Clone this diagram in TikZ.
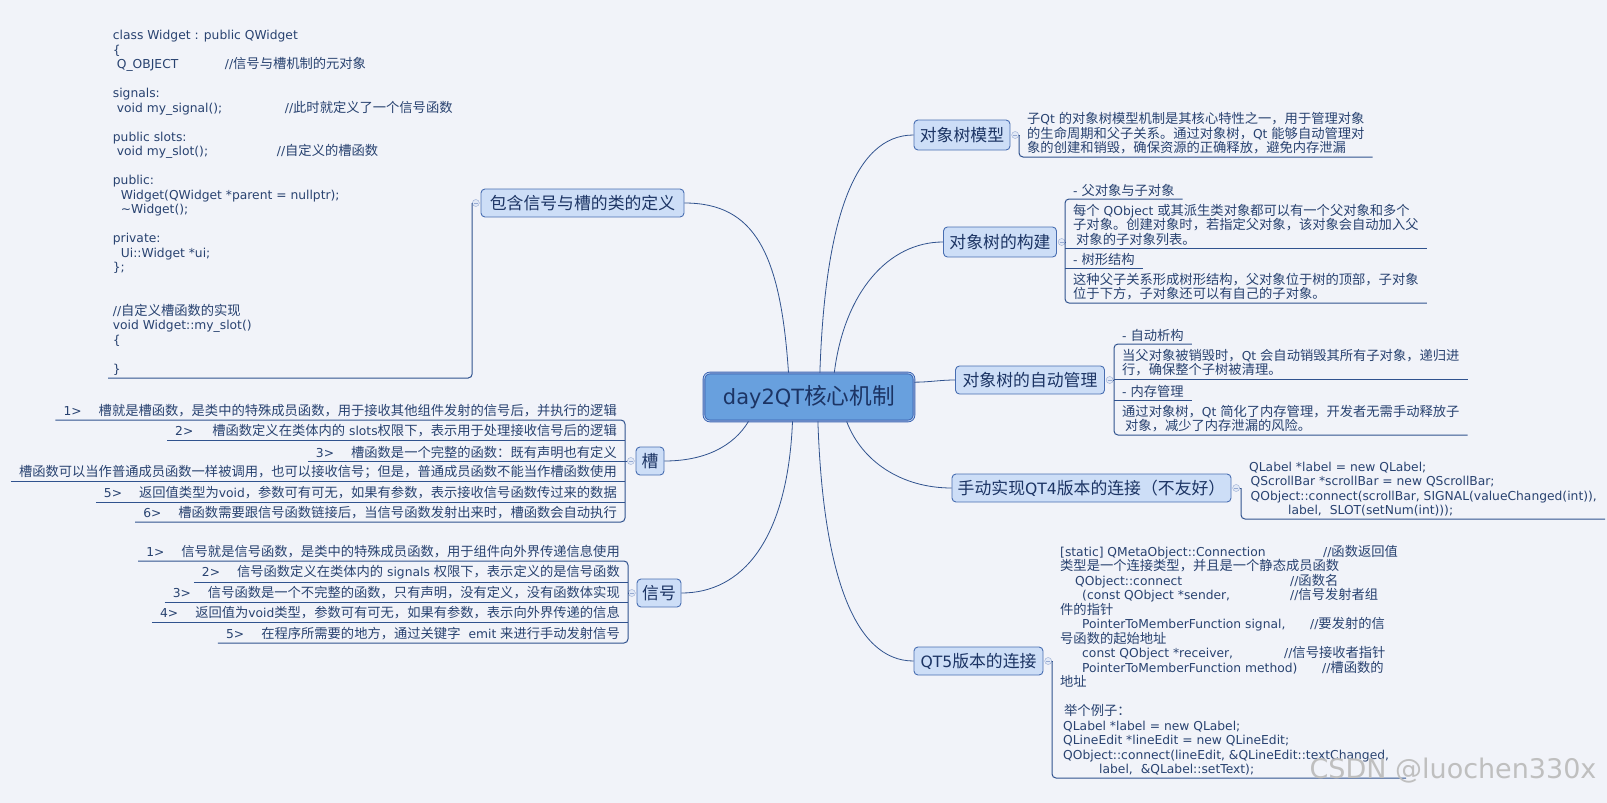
\documentclass[tikz,border=0pt]{standalone}
\usepackage{fontspec}
\setmainfont{DejaVu Sans}
\newfontfamily\zhfont[Scale=1.08]{Noto Sans CJK SC}
\usetikzlibrary{positioning}

% CJK runs are set in the CJK face
\XeTeXinterchartokenstate=1
\newXeTeXintercharclass\zhclass
\newcount\zhcode
\def\zhrange#1#2{\zhcode=#1 \loop\XeTeXcharclass\zhcode=\zhclass
  \advance\zhcode by 1 \ifnum\zhcode<#2 \repeat}
\zhrange{"3000}{"3040}
\zhrange{"4E00}{"A000}
\zhrange{"FF00}{"FFF0}
\XeTeXinterchartoks 0 \zhclass = {\zhfont}
\XeTeXinterchartoks 4095 \zhclass = {\zhfont}
\XeTeXinterchartoks \zhclass 0 = {\rmfamily}
\XeTeXinterchartoks \zhclass 4095 = {\rmfamily}

\definecolor{BG}{RGB}{241,243,249}
\definecolor{RootFill}{RGB}{104,160,222}
\definecolor{RootLine}{RGB}{58,96,176}
\definecolor{TopicFill}{RGB}{205,222,247}
\definecolor{TopicLine}{RGB}{72,110,178}
\definecolor{DeepBlue}{RGB}{28,52,100}
\definecolor{LineBlue}{RGB}{48,82,142}
\definecolor{TextBlue}{RGB}{40,66,112}
\definecolor{KnobFill}{RGB}{226,233,246}
\definecolor{KnobLine}{RGB}{150,170,210}

\newcommand{\codecmt}[3]{\makebox[#1][l]{#2}#3}
\newcommand{\itemgap}{\hspace{17pt}}

\begin{document}
\begin{tikzpicture}[x=1pt, y=-1pt, node distance=1pt,
  root/.style={draw=RootLine, line width=0.9pt, double=RootFill!45!white,
               double distance=0.8pt, fill=RootFill, rounded corners=6pt,
               minimum width=210pt, minimum height=48pt, text=DeepBlue,
               font=\fontsize{21}{25}\selectfont},
  topic/.style={draw=TopicLine, line width=0.9pt, fill=TopicFill,
                rounded corners=4pt, minimum height=28pt, inner xsep=0pt,
                text=DeepBlue, font=\fontsize{15.6}{19}\selectfont},
  knob/.style={circle, draw=KnobLine, fill=KnobFill, inner sep=0pt,
               minimum size=7pt, path picture={\draw[KnobLine]
               ([xshift=-2pt]path picture bounding box.center) --
               ([xshift=2pt]path picture bounding box.center);}},
  txt/.style={inner xsep=8pt, inner ysep=2.5pt, text=TextBlue,
              font=\fontsize{12.3}{14.5}\selectfont},
  para/.style={txt, anchor=south west, align=left},
  item/.style={txt, anchor=south east, align=right},
  link/.style={draw=LineBlue, line width=0.8pt},
  uline/.style={draw=LineBlue, line width=1pt, rounded corners=4pt}
]
\useasboundingbox (0,0) rectangle (1607,803);
\fill[BG] (0,0) rectangle (1607,803);

% Central topic
\node[root] (root) at (809,397) {day2QT核心机制};

% Main topics
\node[topic, minimum width=96pt, minimum height=30pt] (model) at (962,135) {对象树模型};
\node[topic, minimum width=113pt, minimum height=30pt] (build) at (1000,242) {对象树的构建};
\node[topic, minimum width=149pt] (manage) at (1030,380) {对象树的自动管理};
\node[topic, minimum width=279pt] (qt4) at (1091.5,488) {手动实现QT4版本的连接（不友好）};
\node[topic, minimum width=129pt] (qt5) at (978.5,661) {QT5版本的连接};
\node[topic, minimum width=203pt] (defn) at (582.5,203) {包含信号与槽的类的定义};
\node[topic, minimum width=28pt] (slot) at (650,461) {槽};
\node[topic, minimum width=44pt] (signal) at (659,593) {信号};

% Collapse knobs
\node[knob, right=of model] (kmodel) {};
\node[knob, right=of build] (kbuild) {};
\node[knob, right=of manage] (kmanage) {};
\node[knob, right=of qt4] (kqt4) {};
\node[knob, right=of qt5] (kqt5) {};
\node[knob, left=of defn] (kdefn) {};
\node[knob, left=of slot] (kslot) {};
\node[knob, left=of signal] (ksignal) {};

% Branches from the centre
\draw[link] (root.130) .. controls +(-8,-120) and +(70,0) .. (defn.east);
\draw[link] (root.66) .. controls +(5,-150) and +(-60,0) .. (model.west);
\draw[link] (root.44) .. controls +(10,-80) and +(-55,0) .. (build.west);
\draw[link] (root.8) .. controls +(15,0) and +(-15,0) .. (manage.west);
\draw[link] (root.327) .. controls +(15,40) and +(-50,0) .. (qt4.west);
\draw[link] (root.290) .. controls +(5,150) and +(-60,0) .. (qt5.west);
\draw[link] (root.202) .. controls +(-15,25) and +(40,0) .. (slot.east);
\draw[link] (root.236) .. controls +(-5,120) and +(60,0) .. (signal.east);

% Object tree model
\node[para] (mtext) at (1019,157) {子Qt 的对象树模型机制是其核心特性之一，用于管理对象\\的生命周期和父子关系。通过对象树，Qt 能够自动管理对\\象的创建和销毁，确保资源的正确释放，避免内存泄漏};
\draw[link] (kmodel.east) -- (kmodel.east -| mtext.south west);
\draw[uline] (kmodel.east -| mtext.south west) -- (mtext.south west) -- (mtext.south east);

% Building the tree
\node[para] (b1) at (1065,199) {- 父对象与子对象};
\node[para] (b2) at (1065,248) {每个 QObject 或其派生类对象都可以有一个父对象和多个\\子对象。创建对象时，若指定父对象，该对象会自动加入父\\\hspace*{3pt}对象的子对象列表。};
\node[para] (b3) at (1065,268) {- 树形结构};
\node[para] (b4) at (1065,303) {这种父子关系形成树形结构，父对象位于树的顶部，子对象\\位于下方，子对象还可以有自己的子对象。};
\draw[uline] (b1.south east) -- (b1.south west) -- (b4.south west) -- (b4.south east);
\draw[uline] (b2.south west) -- (b2.south east);
\draw[uline] (b3.south west) -- (b3.south east);
\draw[link] (kbuild.east) -- (kbuild.east -| b2.south west);

% Automatic management
\node[para] (m1) at (1114,344) {- 自动析构};
\node[para] (m2) at (1114,379) {当父对象被销毁时，Qt 会自动销毁其所有子对象，递归进\\行，确保整个子树被清理。};
\node[para] (m3) at (1114,400) {- 内存管理};
\node[para] (m4) at (1114,435) {通过对象树，Qt 简化了内存管理，开发者无需手动释放子\\\hspace*{3pt}对象，减少了内存泄漏的风险。};
\draw[uline] (m1.south east) -- (m1.south west) -- (m4.south west) -- (m4.south east);
\draw[uline] (m2.south west) -- (m2.south east);
\draw[uline] (m3.south west) -- (m3.south east);
\draw[link] (kmanage.east) -- (kmanage.east -| m2.south west);

% QT4 style connection
\node[para] (q4) at (1241,519) {QLabel *label = new QLabel;\\\hspace*{1.5pt}QScrollBar *scrollBar = new QScrollBar;\\\hspace*{1.5pt}QObject::connect(scrollBar, SIGNAL(valueChanged(int)),\\\hspace*{39pt}label,\hspace*{4pt} SLOT(setNum(int)));};
\draw[link] (kqt4.east) -- (kqt4.east -| q4.south west);
\draw[uline] (kqt4.east -| q4.south west) -- (q4.south west) -- (q4.south east);

% QT5 style connection
\node[para] (q5) at (1052,778) {%
\codecmt{263pt}{[static] QMetaObject::Connection}{//函数返回值}\\
类型是一个连接类型，并且是一个静态成员函数\\
\codecmt{230pt}{\hspace*{15pt}QObject::connect}{//函数名}\\
\codecmt{230pt}{\hspace*{22pt}(const QObject *sender,}{//信号发射者组}\\
件的指针\\
\codecmt{250pt}{\hspace*{22pt}PointerToMemberFunction signal,}{//要发射的信}\\
号函数的起始地址\\
\codecmt{224pt}{\hspace*{22pt}const QObject *receiver,}{//信号接收者指针}\\
\codecmt{262pt}{\hspace*{22pt}PointerToMemberFunction method)}{//槽函数的}\\
地址\\[14.5pt]
\hspace*{4pt}举个例子：\\
\hspace*{3pt}QLabel *label = new QLabel;\\
\hspace*{3pt}QLineEdit *lineEdit = new QLineEdit;\\
\hspace*{3pt}QObject::connect(lineEdit, \&QLineEdit::textChanged,\\
\hspace*{39pt}label,\hspace*{4pt} \&QLabel::setText);};
\draw[link] (kqt5.east) -- (kqt5.east -| q5.south west);
\draw[uline] (kqt5.east -| q5.south west) -- (q5.south west) -- (q5.south east);

% Class definition
\node[para, inner xsep=4.7pt] (code) at (108,378) {%
class Widget : public QWidget\\
\{\\
\codecmt{112pt}{\hspace*{4pt}Q\_OBJECT}{//信号与槽机制的元对象}\\[14.5pt]
signals:\\
\codecmt{172pt}{\hspace*{4pt}void my\_signal();}{//此时就定义了一个信号函数}\\[14.5pt]
public slots:\\
\codecmt{164pt}{\hspace*{4pt}void my\_slot();}{//自定义的槽函数}\\[14.5pt]
public:\\
\hspace*{8pt}Widget(QWidget *parent = nullptr);\\
\hspace*{8pt}\textasciitilde Widget();\\[14.5pt]
private:\\
\hspace*{8pt}Ui::Widget *ui;\\
\};\\[29pt]
//自定义槽函数的实现\\
void Widget::my\_slot()\\
\{\\[14.5pt]
\}};
\draw[uline] (code.south west) -- (code.south west -| kdefn.west) -- (kdefn.west);

% Slots
\node[item] (s1) at (625,420) {1>\itemgap 槽就是槽函数，是类中的特殊成员函数，用于接收其他组件发射的信号后，并执行的逻辑};
\node[item] (s2) at (625,440) {2>\hspace{19pt}槽函数定义在类体内的 slots权限下，表示用于处理接收信号后的逻辑};
\node[item] (s3) at (625,461) {3>\itemgap 槽函数是一个完整的函数：既有声明也有定义};
\node[item] (s4) at (625,481) {槽函数可以当作普通成员函数一样被调用，也可以接收信号；但是，普通成员函数不能当作槽函数使用};
\node[item] (s5) at (625,502) {5>\itemgap 返回值类型为void，参数可有可无，如果有参数，表示接收信号函数传过来的数据};
\node[item] (s6) at (625,522) {6>\itemgap 槽函数需要跟信号函数链接后，当信号函数发射出来时，槽函数会自动执行};
\draw[uline] (s1.south west) -- (s1.south east) -- (s6.south east) -- (s6.south west);
\foreach \i in {2,...,5}
  \draw[uline] (s\i.south west) -- (s\i.south east);
\draw[link] (kslot.west) -- (kslot.west -| s1.south east);

% Signals
\node[item] (g1) at (628,561) {1>\itemgap 信号就是信号函数，是类中的特殊成员函数，用于组件向外界传递信息使用};
\node[item] (g2) at (628,582) {2>\itemgap 信号函数定义在类体内的 signals 权限下，表示定义的是信号函数};
\node[item] (g3) at (628,602) {3>\itemgap 信号函数是一个不完整的函数，只有声明，没有定义，没有函数体实现};
\node[item] (g4) at (628,622) {4>\itemgap 返回值为void类型，参数可有可无，如果有参数，表示向外界传递的信息};
\node[item] (g5) at (628,643) {5>\itemgap 在程序所需要的地方，通过关键字\hspace{8pt}emit 来进行手动发射信号};
\draw[uline] (g1.south west) -- (g1.south east) -- (g5.south east) -- (g5.south west);
\foreach \i in {2,...,4}
  \draw[uline] (g\i.south west) -- (g\i.south east);
\draw[link] (ksignal.west) -- (ksignal.west -| g1.south east);

% Watermark
\node[anchor=east, text=black!25, font=\fontsize{27}{30}\selectfont] (mark) at (1600,771) {CSDN @luochen330x};
\end{tikzpicture}
\end{document}
